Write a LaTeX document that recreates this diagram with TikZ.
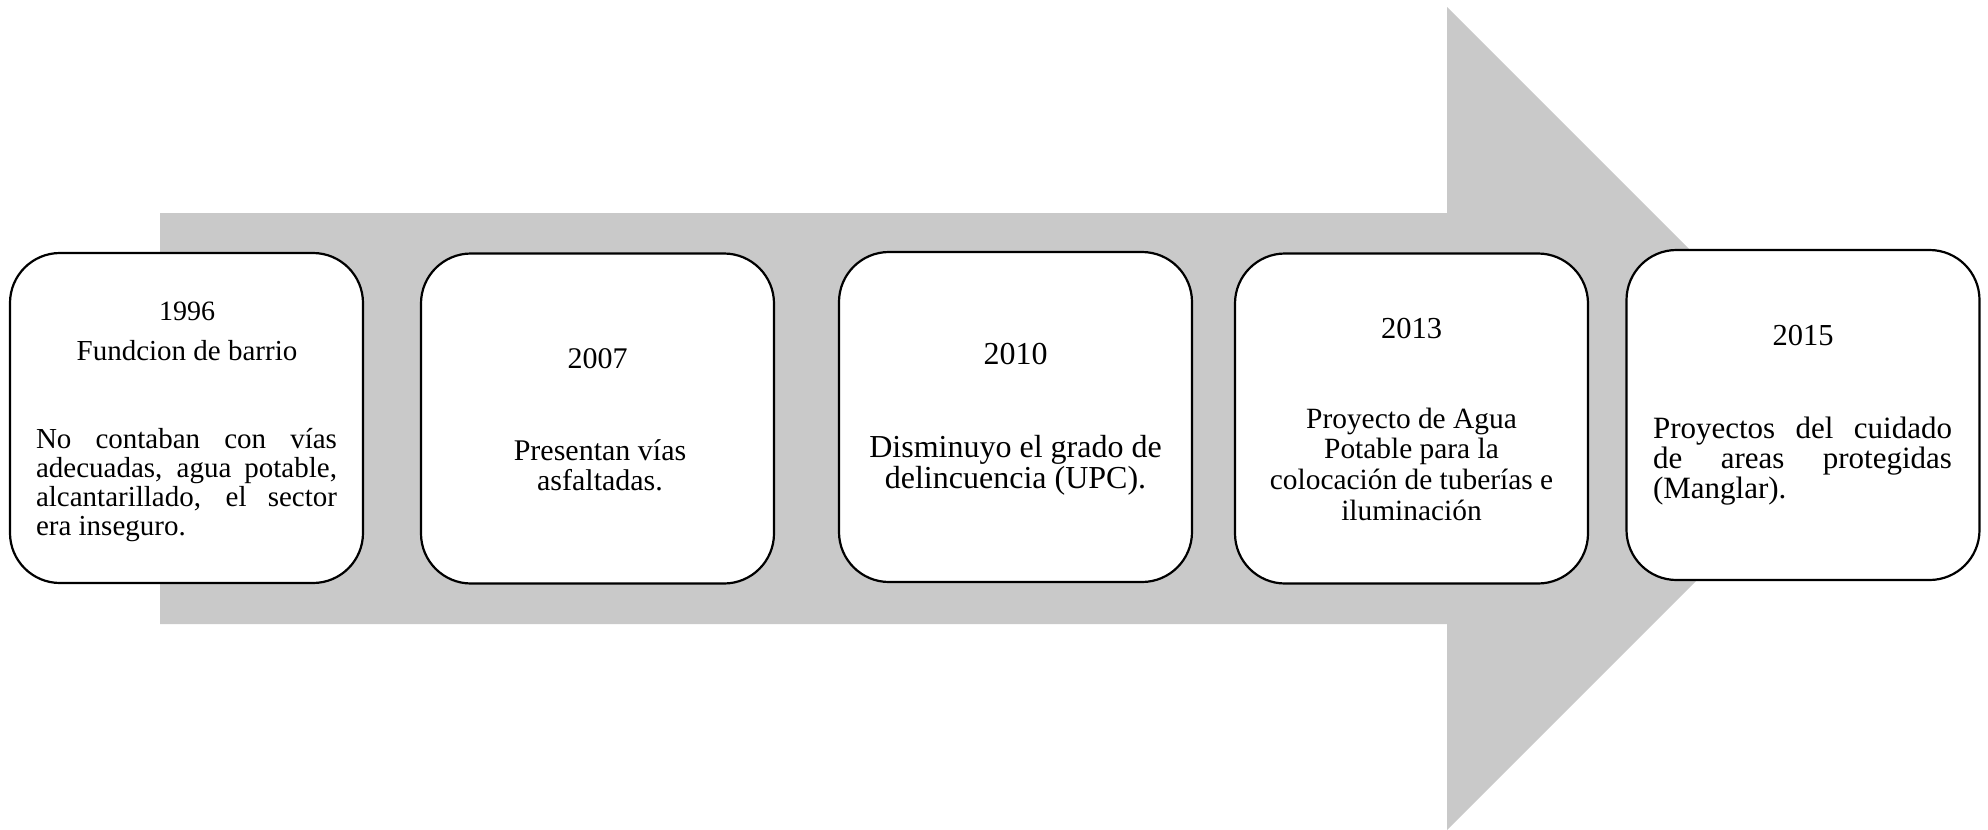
\documentclass[tikz,border=0pt]{standalone}
\usepackage{fontspec}
\setmainfont{Liberation Serif}
\definecolor{arrowgray}{RGB}{201,201,201}
\begin{document}
\begin{tikzpicture}[x=0.5pt,y=-0.5pt,
  card/.style={draw=black, line width=1.1pt, fill=white, rounded corners=25pt,
    minimum width=176.5pt, minimum height=165pt, inner sep=0pt},
  yr/.style={anchor=base, inner sep=0pt},
  body/.style={anchor=base, inner sep=0pt, align=center}]
\useasboundingbox (0,0) rectangle (1988,830);
% big background arrow
\fill[arrowgray] (160,213) -- (1447,213) -- (1447,7) -- (1858.5,418.5)
  -- (1447,830) -- (1447,624) -- (160,624) -- cycle;
% cards
\node[card] (b1) at (186.5,418) {};
\node[card] (b2) at (597.5,418.5) {};
\node[card] (b3) at (1015.5,417) {};
\node[card] (b4) at (1411.5,418.5) {};
\node[card] (b5) at (1803,415) {};
% card 1 (body anchored at the baseline of its last line)
\node[yr, font=\fontsize{14}{15}\selectfont] (y1) at (187,320) {1996};
\node[yr, font=\fontsize{14.5}{15}\selectfont] (s1) at (187,360) {Fundcion de barrio};
\node[body, align=left, font=\fontsize{14.5}{14.5}\selectfont] (t1) at (186.5,535)
  {\makebox[150.5pt][s]{No contaban con vías}\\
   \makebox[150.5pt][s]{adecuadas, agua potable,}\\
   \makebox[150.5pt][s]{alcantarillado, el sector}\\
   era inseguro.};
% card 2
\node[yr, font=\fontsize{15}{15}\selectfont] (y2) at (597.5,368) {2007};
\node[body, font=\fontsize{15}{15}\selectfont] (t2) at (600,490)
  {Presentan vías\\ asfaltadas.};
% card 3
\node[yr, font=\fontsize{16}{16}\selectfont] (y3) at (1015.5,364) {2010};
\node[body, font=\fontsize{16}{15.5}\selectfont] (t3) at (1015.5,488)
  {Disminuyo el grado de\\ delincuencia (UPC).};
% card 4
\node[yr, font=\fontsize{15.25}{15}\selectfont] (y4) at (1411.5,338) {2013};
\node[body, font=\fontsize{14.7}{15.3}\selectfont] (t4) at (1411.5,520)
  {Proyecto de Agua\\ Potable para la\\ colocación de tuberías e\\ iluminación};
% card 5
\node[yr, font=\fontsize{15.25}{15}\selectfont] (y5) at (1803,345) {2015};
\node[body, align=left, font=\fontsize{15.5}{15}\selectfont] (t5) at (1802.5,498)
  {\makebox[149.5pt][s]{Proyectos del cuidado}\\
   \makebox[149.5pt][s]{de areas protegidas}\\
   (Manglar).};
\end{tikzpicture}
\end{document}
